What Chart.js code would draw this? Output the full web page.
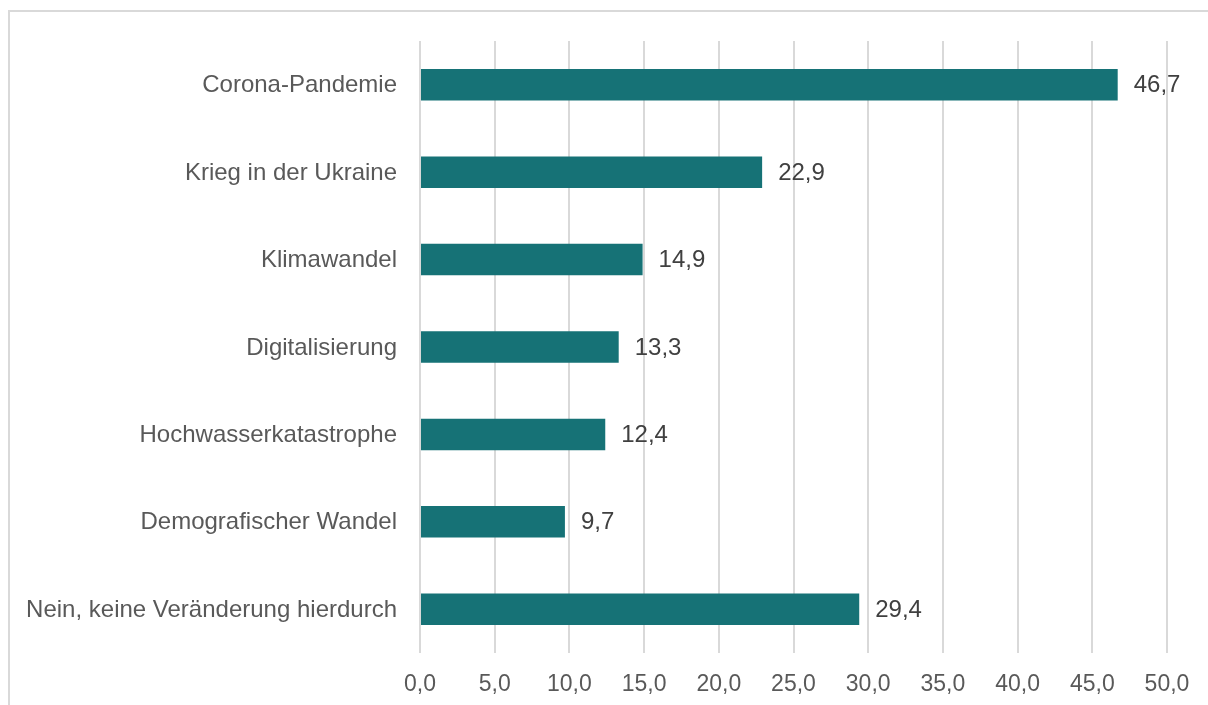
<!DOCTYPE html>
<html>
<head>
<meta charset="utf-8">
<script src="https://cdn.jsdelivr.net/npm/chart.js@4/dist/chart.umd.min.js"></script>
<style>
  html, body { margin: 0; padding: 0; background: #fff; overflow: hidden; }
  #frame { position: absolute; left: 8px; top: 10px; width: 1220px; height: 720px; border: 2px solid #d9d9d9; box-sizing: border-box; }
  #wrap { position: absolute; left: 0; top: 0; width: 1208px; height: 705px; }
</style>
</head>
<body>
<div id="frame"></div>
<div id="wrap"><canvas id="chart"></canvas></div>
<script>
// Veränderungen durch ... (Angaben in %)
const categories = [
  'Corona-Pandemie',
  'Krieg in der Ukraine',
  'Klimawandel',
  'Digitalisierung',
  'Hochwasserkatastrophe',
  'Demografischer Wandel',
  'Nein, keine Veränderung hierdurch'
];
const values = [46.7, 22.9, 14.9, 13.3, 12.4, 9.7, 29.4];
const axisMin = 0;
const axisMax = 50;
const axisStep = 5;

const fontFamily = '"Liberation Sans", Arial, sans-serif';
const fmt = v => Number(v).toFixed(1).replace('.', ',');

// Kategorien links und Werte rechts neben den Balken
const textLabels = {
  id: 'textLabels',
  afterDatasetsDraw(chart) {
    const ctx = chart.ctx;
    const meta = chart.getDatasetMeta(0);
    const yScale = chart.scales.y;
    ctx.save();
    ctx.font = '24px ' + fontFamily;
    ctx.textBaseline = 'middle';
    meta.data.forEach((bar, i) => {
      ctx.fillStyle = '#595959';
      ctx.textAlign = 'right';
      ctx.fillText(categories[i], yScale.right - 23, yScale.getPixelForValue(i) + 1);
      ctx.fillStyle = '#404040';
      ctx.textAlign = 'left';
      ctx.fillText(fmt(values[i]), bar.x + 16, bar.y + 1);
    });
    ctx.restore();
  }
};

new Chart(document.getElementById('chart'), {
  type: 'bar',
  data: {
    labels: categories,
    datasets: [{
      data: values,
      backgroundColor: '#167276',
      borderColor: '#167276',
      borderWidth: 0,
      barPercentage: 0.36,
      categoryPercentage: 1.0
    }]
  },
  options: {
    indexAxis: 'y',
    responsive: true,
    maintainAspectRatio: false,
    animation: false,
    layout: { padding: { top: 41, right: 41, bottom: 0, left: 0 } },
    plugins: {
      legend: { display: false },
      tooltip: { enabled: false }
    },
    scales: {
      x: {
        min: axisMin,
        max: axisMax,
        border: { display: false },
        grid: { color: '#d9d9d9', lineWidth: 2, drawTicks: false },
        ticks: {
          stepSize: axisStep,
          padding: 18,
          color: '#595959',
          font: { family: fontFamily, size: 23 },
          callback: v => fmt(v)
        },
        afterFit: s => { s.height = 52; }
      },
      y: {
        border: { display: false },
        grid: { display: false, drawTicks: false },
        ticks: { display: false },
        afterFit: s => { s.width = 420; }
      }
    }
  },
  plugins: [textLabels]
});
</script>
</body>
</html>
